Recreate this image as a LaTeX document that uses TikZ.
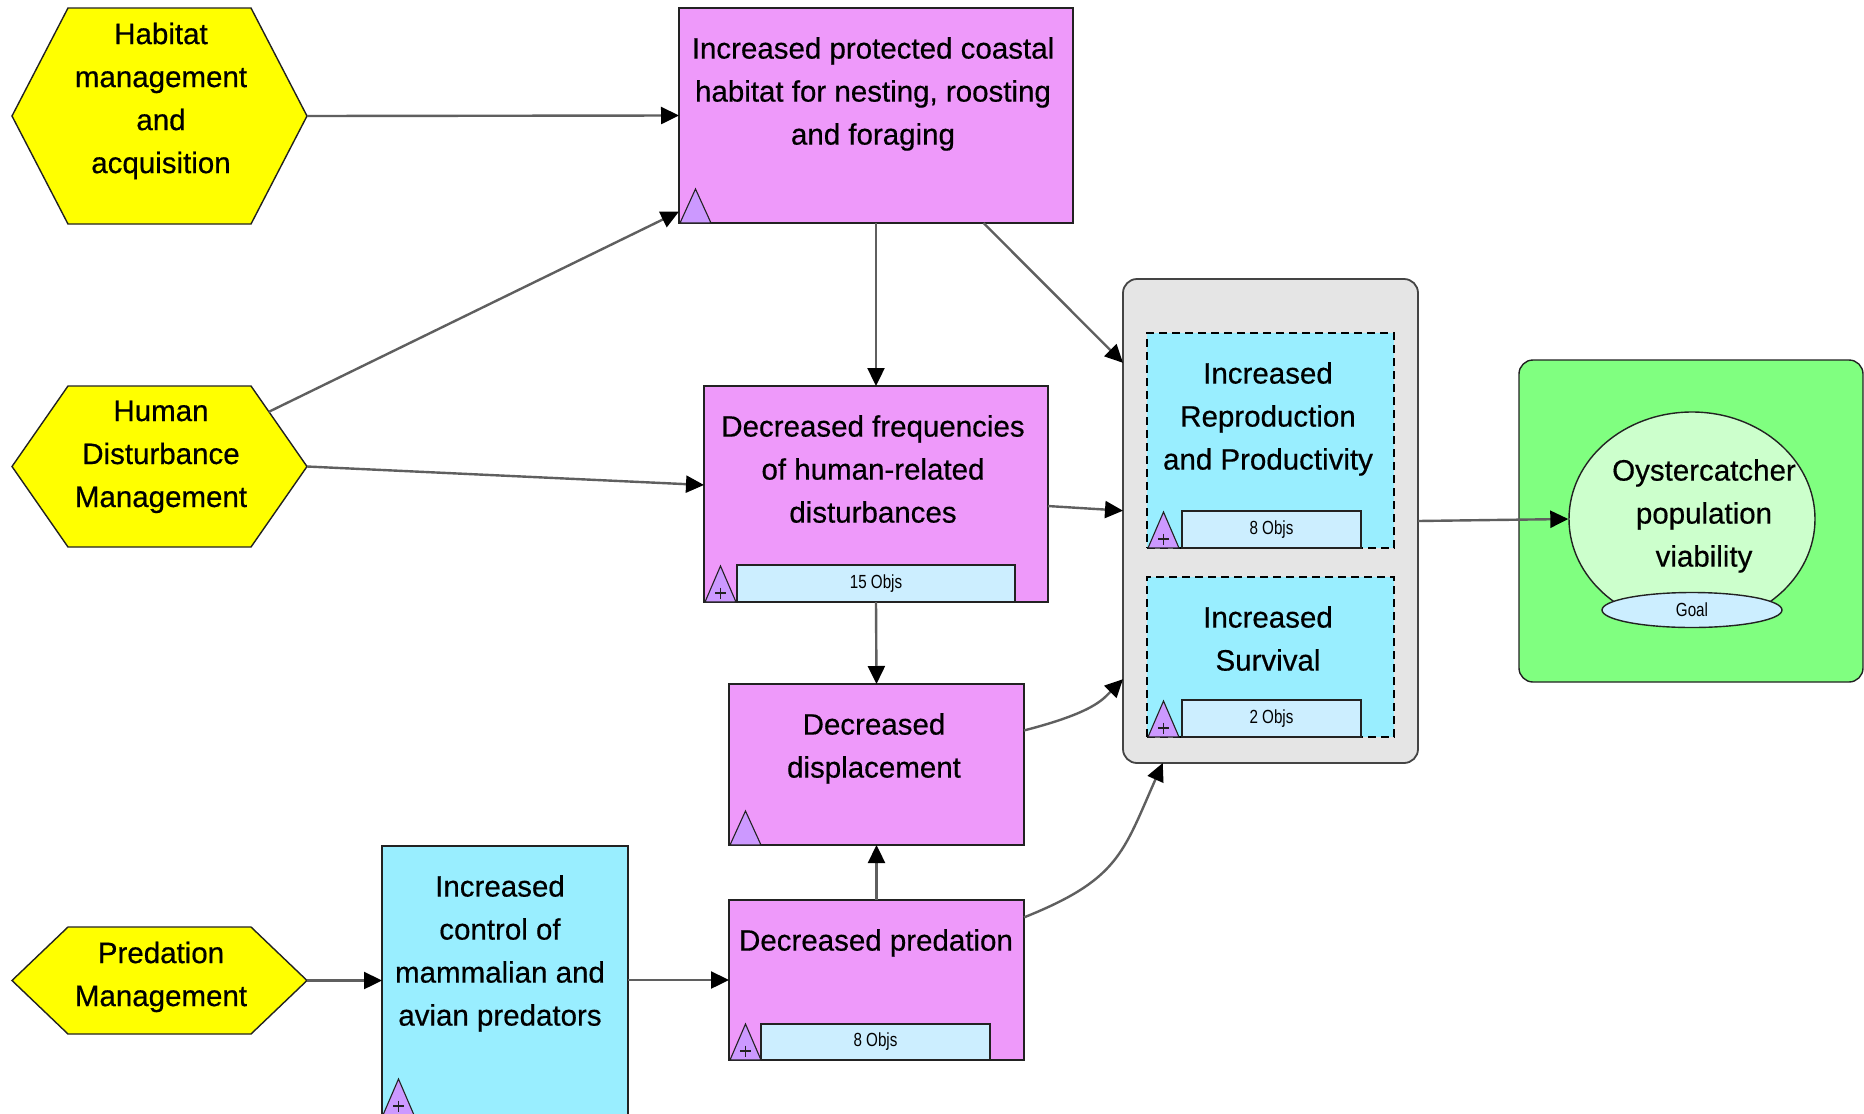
\documentclass[tikz,border=0pt]{standalone}
\usepackage{fontspec}
\setmainfont{Liberation Sans}
\newfontfamily\mainf[FakeBold=0.5]{Liberation Sans}
\newfontfamily\smallfont[FakeStretch=0.8]{Liberation Sans}
\usetikzlibrary{arrows.meta,shapes.geometric,calc}
\definecolor{hexyellow}{RGB}{255,255,0}
\definecolor{magbox}{RGB}{238,153,250}
\definecolor{cyanbox}{RGB}{153,238,255}
\definecolor{lblfill}{RGB}{204,238,255}
\definecolor{trifill}{RGB}{204,153,255}
\definecolor{grpfill}{RGB}{229,229,229}
\definecolor{grpedge}{RGB}{68,68,68}
\definecolor{grnfill}{RGB}{128,255,128}
\definecolor{goalfill}{RGB}{204,255,204}
\definecolor{edgecol}{RGB}{34,34,34}
\definecolor{arrcol}{RGB}{95,95,95}
\newcommand\mytri[3]{\draw[tri] (#1,#2) -- (#1+15.5,#2-#3) -- (#1+31,#2) -- cycle;}
\newcommand\mytriplus[2]{\mytri{#1}{#2}{36}\draw[edgecol, line width=1.3pt] (#1+10,#2-9) -- (#1+21,#2-9) (#1+15.5,#2-14.5) -- (#1+15.5,#2-3.5);}
\newcommand\hexdraw[1]{\draw[hexshape] (#1.west) -- ([xshift=56pt]#1.north west) -- ([xshift=-56pt]#1.north east) -- (#1.east) -- ([xshift=-56pt]#1.south east) -- ([xshift=56pt]#1.south west) -- cycle;}
\begin{document}
\begin{tikzpicture}[x=1pt,y=-1pt,
  box/.style={rectangle, draw=edgecol, line width=1.4pt, inner sep=0pt, outer sep=0pt},
  mag/.style={box, fill=magbox},
  cyn/.style={box, fill=cyanbox},
  dashbox/.style={box, fill=cyanbox, draw=black, dash pattern=on 8pt off 5pt},
  hexbound/.style={rectangle, inner sep=0pt, outer sep=0pt},
  hexshape/.style={draw=edgecol, line width=1.4pt, fill=hexyellow, line join=miter},
  txt/.style={font=\mainf\fontsize{29.5}{43}\selectfont, align=center, inner sep=0pt, anchor=north},
  objs/.style={box, fill=lblfill, font=\smallfont\fontsize{19}{22}\selectfont},
  conn/.style={draw=arrcol, line width=2.4pt, -{Triangle[length=18pt,width=17pt,color=black]}},
  tri/.style={draw=edgecol, line width=1.1pt, fill=trifill, line join=miter},
]
\useasboundingbox (0,0) rectangle (1864,1114);
\clip (0,0) rectangle (1864,1114);
\fill[white] (0,0) rectangle (1864,1114);

% group and goal frames
\node[box, fill=grpfill, draw=grpedge, line width=1.8pt, rounded corners=14pt, minimum width=295pt, minimum height=484pt] (grp) at (1270.5,521) {};
\node[box, fill=grnfill, draw=edgecol, rounded corners=14pt, minimum width=344pt, minimum height=322pt] (grn) at (1691,521) {};

% inner dashed boxes
\node[dashbox, minimum width=247pt, minimum height=215pt] (rep) at (1270.5,440.5) {};
\node[dashbox, minimum width=247pt, minimum height=160pt] (surv) at (1270.5,657) {};
\node[objs, minimum width=179pt, minimum height=37pt] (repl) at (1271.5,529.5) {8 Objs};
\node[objs, minimum width=179pt, minimum height=37pt] (survl) at (1271.5,718.5) {2 Objs};
\mytriplus{1148}{548}
\mytriplus{1148}{737}
\node[txt] (rept) at (1268,362) {Increased\\Reproduction\\and Productivity};
\node[txt] (survt) at (1268,606) {Increased\\Survival};

% goal
\node[ellipse, draw=edgecol, line width=1.4pt, fill=goalfill, minimum width=246pt, minimum height=214pt, inner sep=0pt] (oys) at (1692,519) {};
\node[txt] (oyst) at (1704,459) {Oystercatcher\\population\\viability};
\node[ellipse, draw=edgecol, line width=1.4pt, fill=lblfill, minimum width=180pt, minimum height=35pt, inner sep=0pt, font=\smallfont\fontsize{19}{22}\selectfont] (goal) at (1692,610) {Goal};

% hexagons
\node[hexbound, minimum width=295pt, minimum height=216pt] (hab) at (159.5,116) {};
\hexdraw{hab}
\node[txt] (habt) at (161,22.5) {Habitat\\management\\and\\acquisition};
\node[hexbound, minimum width=295pt, minimum height=161pt] (hum) at (159.5,466.5) {};
\hexdraw{hum}
\node[txt] (humt) at (161,400.5) {Human\\Disturbance\\Management};
\node[hexbound, minimum width=295pt, minimum height=107pt] (pred) at (159.5,980.5) {};
\hexdraw{pred}
\node[txt] (predt) at (161,941.5) {Predation\\Management};

% magenta boxes
\node[mag, minimum width=394pt, minimum height=215pt] (b1) at (876,115.5) {};
\mytri{680}{223}{34}
\node[txt] (b1t) at (873,37) {Increased protected coastal\\habitat for nesting, roosting\\and foraging};

\node[mag, minimum width=344pt, minimum height=216pt] (b2) at (876,494) {};
\node[objs, minimum width=278pt, minimum height=37pt] (b2l) at (876,583.5) {15 Objs};
\mytriplus{705}{602}
\node[txt] (b2t) at (873,415) {Decreased frequencies\\of human-related\\disturbances};

\node[mag, minimum width=295pt, minimum height=161pt] (b3) at (876.5,764.5) {};
\mytri{730}{845}{34}
\node[txt] (b3t) at (874,713) {Decreased\\displacement};

\node[mag, minimum width=295pt, minimum height=160pt] (b4) at (876.5,980) {};
\node[objs, minimum width=229pt, minimum height=36pt] (b4l) at (875.5,1042) {8 Objs};
\mytriplus{730}{1060}
\node[txt] (b4t) at (876,929) {Decreased predation};

% cyan box
\node[cyn, minimum width=246pt, minimum height=269pt] (b5) at (505,980.5) {};
\mytriplus{383}{1115}
\node[txt] (b5t) at (500,875) {Increased\\control of\\mammalian and\\avian predators};

% connectors
\coordinate (humtr) at ($([xshift=-56pt]hum.north east)!0.32!(hum.east)$);
\draw[conn] (hab.east) -- (b1.west);
\draw[conn] (humtr) -- (b1.206.6);
\draw[conn] (hum.east) -- (b2.177.3);
\draw[conn] (b1.south) -- (b2.north);
\draw[conn] (b1.-45.7) -- (grp.133.6);
\draw[conn] (b2.-4) -- (grp.176.1);
\draw[conn] (b2.south) -- (b3.north);
\draw[conn] (b4.north) -- (b3.south);
\draw[conn] (b3.13.9) .. controls +(70,-18) and +(-20,20) .. (grp.227.9);
\draw[conn] (b4.23.8) .. controls +(95,-38) and +(-40,90) .. (grp.246.8);
\draw[conn] (pred.east) -- (b5.west);
\draw[conn] (b5.east |- b4.west) -- (b4.west);
\draw[conn] (grp.east) -- (oys.west);
\end{tikzpicture}
\end{document}
